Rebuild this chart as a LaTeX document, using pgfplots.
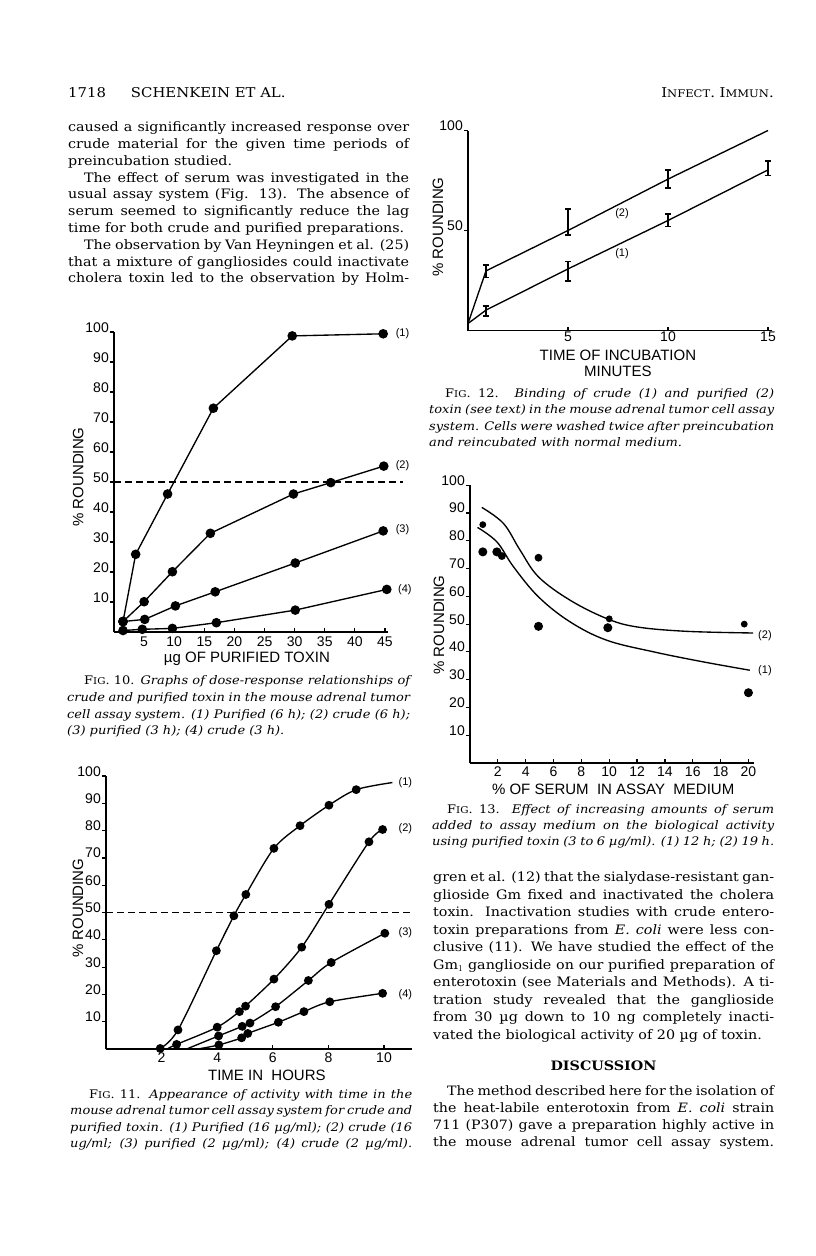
\documentclass[border=0pt]{standalone}
\usepackage{fontspec}
\setmainfont[FakeStretch=1.1]{DejaVu Serif}
\newfontfamily\axisfont{Liberation Sans}
\usepackage{pgfplots}
\pgfplotsset{compat=1.18}
\newcommand{\bodysize}{\fontsize{13}{16.8}\selectfont}
\newcommand{\jl}[1]{\makebox[\linewidth][s]{#1}\par}
\newcommand{\el}[1]{\makebox[\linewidth][l]{#1}\par}
\newcommand{\FIG}[1]{\textup{F{\fontsize{9.4}{10}\selectfont IG}. #1.}}
\newcommand{\lab}{\axisfont\fontsize{11}{12}\selectfont}
\pgfplotsset{
  pagestyle/.style={
    scale only axis, clip=false,
    axis lines=left, axis line style={-, line width=1.4pt},
    xtick align=inside, ytick align=outside, major tick length=4pt,
    tick style={black, line width=1.2pt},
    /pgf/number format/assume math mode=true,
    tick label style={font=\axisfont\fontsize{14}{14}\selectfont, inner sep=0pt},
    yticklabel style={anchor=base east, xshift=-1pt},
    xticklabel style={anchor=base},
    every axis y label/.style={rotate=90, anchor=center, font=\axisfont\fontsize{15}{16}\selectfont},
    every axis x label/.style={anchor=base, font=\axisfont\fontsize{15}{16}\selectfont},
    every axis plot/.append style={line width=1.35pt, black},
  },
  dot/.style={mark=*, mark options={solid, fill=black}},
}
\begin{document}
\begin{tikzpicture}
\useasboundingbox (0pt,0pt) rectangle (816pt,-1256pt);
% header
\node[anchor=base west, inner sep=0] at (68pt,-97pt) {\fontsize{13.5}{14}\selectfont 1718\hspace{25pt}SCHENKEIN ET AL.};
\node[anchor=base east, inner sep=0] at (774pt,-97pt) {\fontsize{13.5}{14}\selectfont I{\fontsize{10.5}{11}\selectfont NFECT}. I{\fontsize{10.5}{11}\selectfont MMUN}.};
% left column text
\node[anchor=base west, inner sep=0] at (68pt,-131.7pt) {\parbox[t]{341pt}{\bodysize
\jl{caused a significantly increased response over}
\jl{crude material for the given time periods of}
\el{preincubation studied.}
\jl{\hspace*{16pt}The effect of serum was investigated in the}
\jl{usual assay system (Fig. 13). The absence of}
\jl{serum seemed to significantly reduce the lag}
\el{time for both crude and purified preparations.}
\jl{\hspace*{16pt}The observation by Van Heyningen et al. (25)}
\jl{that a mixture of gangliosides could inactivate}
\jl{cholera toxin led to the observation by Holm-}}};
% right column text
\node[anchor=base west, inner sep=0] at (433pt,-881.7pt) {\parbox[t]{341pt}{\fontsize{13}{17.5}\selectfont
\jl{gren et al. (12) that the sialydase-resistant gan-}
\jl{glioside Gm fixed and inactivated the cholera}
\jl{toxin. Inactivation studies with crude entero-}
\jl{toxin preparations from \textit{E. coli} were less con-}
\jl{clusive (11). We have studied the effect of the}
\jl{Gm$_1$ ganglioside on our purified preparation of}
\jl{enterotoxin (see Materials and Methods). A ti-}
\jl{tration study revealed that the ganglioside}
\jl{from 30 µg down to 10 ng completely inacti-}
\el{vated the biological activity of 20 µg of toxin.}}};
\node[anchor=base, inner sep=0] at (603.5pt,-1070pt) {\fontsize{13}{14}\selectfont\bfseries DISCUSSION};
\node[anchor=base west, inner sep=0] at (433pt,-1095pt) {\parbox[t]{341pt}{\fontsize{12.9}{17.2}\selectfont
\jl{\hspace*{14pt}The method described here for the isolation of}
\jl{the heat-labile enterotoxin from \textit{E. coli} strain}
\jl{711 (P307) gave a preparation highly active in}
\jl{the mouse adrenal tumor cell assay system.}}};
% captions
\node[anchor=base west, inner sep=0] at (67pt,-684.5pt) {\parbox[t]{343pt}{\fontsize{11.8}{16.8}\selectfont\itshape
\jl{\hspace*{17pt}\FIG{10} Graphs of dose-response relationships of}
\jl{crude and purified toxin in the mouse adrenal tumor}
\jl{cell assay system. (1) Purified (6 h); (2) crude (6 h);}
\el{(3) purified (3 h); (4) crude (3 h).}}};
\node[anchor=base west, inner sep=0] at (70pt,-1098pt) {\parbox[t]{342pt}{\fontsize{11.8}{16.5}\selectfont\itshape
\jl{\hspace*{19pt}\FIG{11} Appearance of activity with time in the}
\jl{mouse adrenal tumor cell assay system for crude and}
\jl{purified toxin. (1) Purified (16 µg/ml); (2) crude (16}
\jl{ug/ml; (3) purified (2 µg/ml); (4) crude (2 µg/ml).}}};
\node[anchor=base west, inner sep=0] at (429pt,-397pt) {\parbox[t]{345pt}{\fontsize{11.8}{16.6}\selectfont\itshape
\jl{\hspace*{16pt}\FIG{12} Binding of crude (1) and purified (2)}
\jl{toxin (see text) in the mouse adrenal tumor cell assay}
\jl{system. Cells were washed twice after preincubation}
\el{and reincubated with normal medium.}}};
\node[anchor=base west, inner sep=0] at (432pt,-813pt) {\parbox[t]{342pt}{\fontsize{11.8}{16.3}\selectfont\itshape
\jl{\hspace*{15pt}\FIG{13} Effect of increasing amounts of serum}
\jl{added to assay medium on the biological activity}
\jl{using purified toxin (3 to 6 µg/ml). (1) 12 h; (2) 19 h.}}};

% ---------------- Fig 10
\begin{axis}[pagestyle, at={(114pt,-632pt)}, anchor=south west,
  width=274pt, height=300pt, xmin=0, xmax=45.5, ymin=0, ymax=100,
  xtick={5,10,...,45}, ytick={10,20,...,100},
  xticklabel style={yshift=-14.7pt},
  xlabel={µg OF PURIFIED TOXIN}, ylabel={\% ROUNDING},
  xlabel style={at={(axis description cs:0.485,-0.103)}},
  ylabel style={at={(axis description cs:-0.131,0.517)}}]
\addplot[dot, mark size=4.1pt] coordinates {(1.5,3.5)(3.6,25.9)(8.9,46)(16.5,74.6)(29.6,98.7)(44.7,99.4)};
\addplot[dot, mark size=4.1pt] coordinates {(1.5,3.5)(5,10.1)(9.7,20.1)(16,32.9)(29.8,46)(36,49.8)(44.8,55.3)};
\addplot[dot, mark size=4.1pt] coordinates {(1.5,3.5)(5.1,4.2)(10.2,8.7)(16.8,13.4)(30.1,23)(44.7,33.7)};
\addplot[dot, mark size=4.1pt] coordinates {(1.5,0.5)(4.7,0.9)(9.7,1.2)(17,3.1)(30.1,7.3)(45.3,14.2)};
\addplot[dashed, dash pattern=on 7pt off 4pt, line width=1.3pt] coordinates {(0,50)(48,50)};
\node[anchor=west, font=\lab] at (axis cs:46.2,99.5) {(1)};
\node[anchor=west, font=\lab] at (axis cs:46.2,55.4) {(2)};
\node[anchor=west, font=\lab] at (axis cs:46.2,34) {(3)};
\node[anchor=west, font=\lab] at (axis cs:46.6,14) {(4)};
\end{axis}

% ---------------- Fig 11
\begin{axis}[pagestyle, at={(106pt,-1049pt)}, anchor=south west,
  width=305.8pt, height=273pt, xmin=0, xmax=11, ymin=0, ymax=100,
  xtick={2,4,...,10}, ytick={10,20,...,100},
  xticklabel style={yshift=-13pt},
  xlabel={TIME IN\ \ HOURS}, ylabel={\% ROUNDING},
  xlabel style={at={(axis description cs:0.526,-0.114)}},
  ylabel style={at={(axis description cs:-0.092,0.516)}}]
\addplot[dot, mark size=3.7pt, smooth, tension=0.5, mark indices={1,...,9}] coordinates {(1.95,0.2)(2.59,7)(3.97,36)(4.6,48.8)(5.03,56.6)(6.04,73.5)(6.98,81.8)(8.02,89.3)(9.0,95)(10.3,97.6)};
\addplot[dot, mark size=3.7pt, smooth, tension=0.5, mark indices={2,...,10}] coordinates {(2.2,0)(2.54,1.7)(4.0,8)(4.8,13.7)(5.02,15.7)(6.04,25.6)(7.04,37.3)(8.02,53)(9.46,75.9)(9.95,80.4)};
\addplot[dot, mark size=3.7pt, smooth, tension=0.5, mark indices={2,...,8}] coordinates {(2.9,0)(4.05,4.8)(4.9,8.3)(5.18,9.5)(6.1,15.5)(7.28,25.1)(8.1,31.7)(10.03,42.4)};
\addplot[dot, mark size=3.7pt, smooth, tension=0.5, mark indices={2,...,8}] coordinates {(3.3,0)(4.06,1.5)(4.88,4.1)(5.1,5.7)(6.2,9.8)(7.12,13.7)(8.05,17.3)(9.95,20.4)};
\addplot[dashed, dash pattern=on 7pt off 4pt, line width=1.3pt] coordinates {(0,50)(11,50)};
\node[anchor=west, font=\lab] at (axis cs:10.4,97.5) {(1)};
\node[anchor=west, font=\lab] at (axis cs:10.4,80.7) {(2)};
\node[anchor=west, font=\lab] at (axis cs:10.4,42.7) {(3)};
\node[anchor=west, font=\lab] at (axis cs:10.4,19.8) {(4)};
\end{axis}

% ---------------- Fig 12
\begin{axis}[pagestyle, at={(468pt,-330.5pt)}, anchor=south west,
  width=304pt, height=200pt, xmin=0, xmax=15.2, ymin=0, ymax=100,
  xtick={5,10,15}, ytick={50,100},
  xticklabel style={yshift=-11.2pt},
  xlabel={TIME OF INCUBATION}, ylabel={\% ROUNDING},
  xlabel style={at={(axis description cs:0.493,-0.1475)}},
  ylabel style={at={(axis description cs:-0.099,0.518)}},
  error bars/error mark options={rotate=90, mark size=3pt, line width=1.3pt},
  error bars/error bar style={line width=1.5pt}]
\addplot[error bars/.cd, y dir=both, y explicit] coordinates {(0,3.5) (0.9,29.8) += (0,2.9) -= (0,3.3) (5,50) += (0,10.7) -= (0,2.2) (10,75.7) += (0,4.6) -= (0,4.5) (15,100)};
\addplot[error bars/.cd, y dir=both, y explicit] coordinates {(0,3.5) (0.9,10.2) += (0,2.1) -= (0,2.9) (5,30.8) += (0,3.7) -= (0,6) (10,55) += (0,3.2) -= (0,3) (15,80.3) += (0,4.5) -= (0,2.8)};
\node[font=\lab] at (axis cs:7.7,58.2) {(2)};
\node[font=\lab] at (axis cs:7.7,38.3) {(1)};
\node[anchor=base, font=\axisfont\fontsize{15}{16}\selectfont] at (axis description cs:0.493,-0.231) {MINUTES};
\end{axis}

% ---------------- Fig 13
\begin{axis}[pagestyle, at={(470pt,-763pt)}, anchor=south west,
  width=284pt, height=277.8pt, xmin=0, xmax=20.4, ymin=0, ymax=100,
  xtick={2,4,...,20}, ytick={10,20,...,100},
  xticklabel style={yshift=-13.7pt},
  xlabel={\% OF SERUM\ \ IN ASSAY\ \ MEDIUM}, ylabel={\% ROUNDING},
  xlabel style={at={(axis description cs:0.504,-0.115)}},
  ylabel style={at={(axis description cs:-0.109,0.497)}}]
\addplot[smooth, tension=0.6] coordinates {(0.85,92)(2.41,86.2)(3.6,76.6)(4.92,67)(7.19,58.6)(9.82,52)(11.97,49)(15.56,47.4)(20.34,46.8)};
\addplot[smooth, tension=0.6] coordinates {(0.54,84.8)(1.93,79.6)(3.13,70.6)(4.92,59.8)(7.19,50.8)(9.82,44.2)(13.2,40)(16.76,36.4)(20.1,33.4)};
\addplot[only marks, dot, mark size=3.8pt] coordinates {(0.92,76)(1.93,76)(4.92,49.2)(9.9,48.7)(20,25.3)};
\addplot[only marks, dot, mark size=3.2pt] coordinates {(2.29,74.5)(4.92,73.9)};
\addplot[only marks, dot, mark size=2.7pt] coordinates {(0.92,85.8)(10.0,51.9)(19.7,50)};
\node[anchor=west, font=\lab] at (axis cs:20.45,46) {(2)};
\node[anchor=west, font=\lab] at (axis cs:20.45,33.4) {(1)};
\end{axis}
\end{tikzpicture}
\end{document}
